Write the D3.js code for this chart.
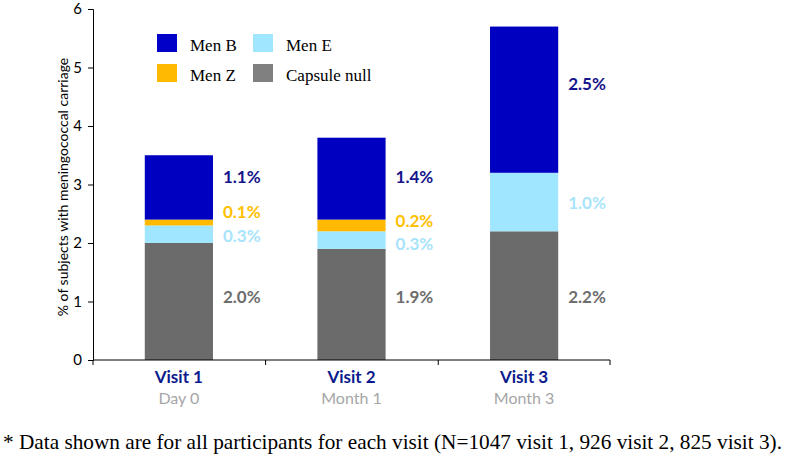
<!DOCTYPE html>
<html>
<head>
<meta charset="utf-8">
<script src="https://cdn.jsdelivr.net/npm/d3@7"></script>
<style>
  body { margin: 0; background: #fff; }
  svg text { font-family: Lato, "Open Sans", sans-serif; }
  .axis path, .axis line { stroke: #000; stroke-width: 1; }
  .axis text { font-size: 15px; fill: #000; }
</style>
</head>
<body>
<svg id="chart" width="786" height="468"></svg>
<script>
// data
let visits = ["Visit 1", "Visit 2", "Visit 3"]
let subLabels = ["Day 0", "Month 1", "Month 3"]
let series = ["Capsule null", "Men E", "Men Z", "Men B"]
let capsuleNull = [2.0, 1.9, 2.2]
let menE = [0.3, 0.3, 1.0]
let menZ = [0.1, 0.2, 0]
let menB = [1.1, 1.4, 2.5]
let yTicks = [0, 1, 2, 3, 4, 5, 6]
// where the value labels sit (in % units, as in the original)
let labelNull = [1.08, 1.08, 1.08]
let labelE = [2.12, 1.98, 2.68]
let labelZ = [2.53, 2.38, null]
let labelB = [3.13, 3.13, 4.72]

let barColor = {"Capsule null": "#6b6b6b", "Men E": "#a0e6ff", "Men Z": "#ffb900", "Men B": "#0000c0"}
let textColor = {"Capsule null": "#6e6e6e", "Men E": "#a8e4fb", "Men Z": "#ffc000", "Men B": "#14148c"}

let table = visits.map((v, i) => ({
    visit: v,
    "Capsule null": capsuleNull[i], "Men E": menE[i], "Men Z": menZ[i], "Men B": menB[i]
}))
let labelAt = {"Capsule null": labelNull, "Men E": labelE, "Men Z": labelZ, "Men B": labelB}
let values = {"Capsule null": capsuleNull, "Men E": menE, "Men Z": menZ, "Men B": menB}

let svg = d3.select("#chart")
let xScale = d3.scaleBand().domain(visits).range([93, 610]).paddingInner(0.605).paddingOuter(0.3)
let yScale = d3.scaleLinear().domain([0, 6]).range([360, 9])

let stacked = d3.stack().keys(series)(table)

// bars
svg.append("g").selectAll("g")
    .data(stacked)
    .enter().append("g")
    .attr("fill", d => barColor[d.key])
    .selectAll("rect")
    .data(d => d)
    .enter().append("rect")
    .attr("x", d => xScale(d.data.visit))
    .attr("width", xScale.bandwidth())
    .attr("y", d => yScale(d[1]))
    .attr("height", d => yScale(d[0]) - yScale(d[1]))

// value labels
series.forEach(s => {
    visits.forEach((v, i) => {
        if (!values[s][i]) return
        svg.append("text")
            .attr("x", xScale(v) + xScale.bandwidth() + 10)
            .attr("y", yScale(labelAt[s][i]))
            .attr("dy", "0.35em")
            .attr("fill", textColor[s])
            .style("font-size", "17px")
            .style("font-weight", "bold")
            .text(values[s][i].toFixed(1) + "%")
    })
})

// y axis
svg.append("g").attr("class", "axis")
    .attr("transform", "translate(93,0)")
    .call(d3.axisLeft(yScale).tickValues(yTicks).tickSize(5).tickPadding(6).tickFormat(d3.format("d")))

// x axis: ticks at band boundaries
let xAxisG = svg.append("g").attr("class", "axis")
xAxisG.append("line").attr("x1", 93).attr("x2", 610).attr("y1", 360).attr("y2", 360)
let bounds = visits.map((v, i) => 93 + i * xScale.step())
bounds.push(610)
xAxisG.selectAll(".xt").data(bounds).enter().append("line")
    .attr("x1", d => d).attr("x2", d => d).attr("y1", 360).attr("y2", 365)

// category labels
visits.forEach((v, i) => {
    let cx = xScale(v) + xScale.bandwidth() / 2
    svg.append("text").attr("x", cx).attr("y", 383)
        .attr("text-anchor", "middle")
        .attr("fill", "#0b1a8c")
        .style("font-size", "17px").style("font-weight", "bold")
        .text(v)
    svg.append("text").attr("x", cx).attr("y", 404)
        .attr("text-anchor", "middle")
        .attr("fill", "#a6a6a6")
        .style("font-size", "16px")
        .text(subLabels[i])
})

// y label
svg.append("text")
    .attr("transform", "translate(63,187) rotate(-90)")
    .attr("text-anchor", "middle")
    .attr("dy", "0.35em")
    .style("font-size", "14px")
    .text("% of subjects with meningococcal carriage")

// legend
let legendOrder = ["Men B", "Men E", "Men Z", "Capsule null"]
let legendFill = {"Men B": "#0000c8", "Men E": "#a0e6ff", "Men Z": "#ffb900", "Capsule null": "#808080"}
legendOrder.forEach((s, i) => {
    let lx = 157 + (i % 2) * 96
    let ly = 34 + Math.floor(i / 2) * 30
    svg.append("rect").attr("x", lx).attr("y", ly).attr("width", 20).attr("height", 18)
        .attr("fill", legendFill[s])
    svg.append("text").attr("x", lx + 33).attr("y", ly + 17)
        .style("font-family", "'Liberation Serif', 'Times New Roman', serif")
        .style("font-size", "17px")
        .text(s)
})

// footnote
svg.append("text")
    .attr("x", 3).attr("y", 449)
    .attr("textLength", 779)
    .attr("lengthAdjust", "spacingAndGlyphs")
    .style("font-family", "'Liberation Serif', 'Times New Roman', serif")
    .style("font-size", "21px")
    .text("* Data shown are for all participants for each visit (N=1047 visit 1, 926 visit 2, 825 visit 3).")
</script>
</body>
</html>
